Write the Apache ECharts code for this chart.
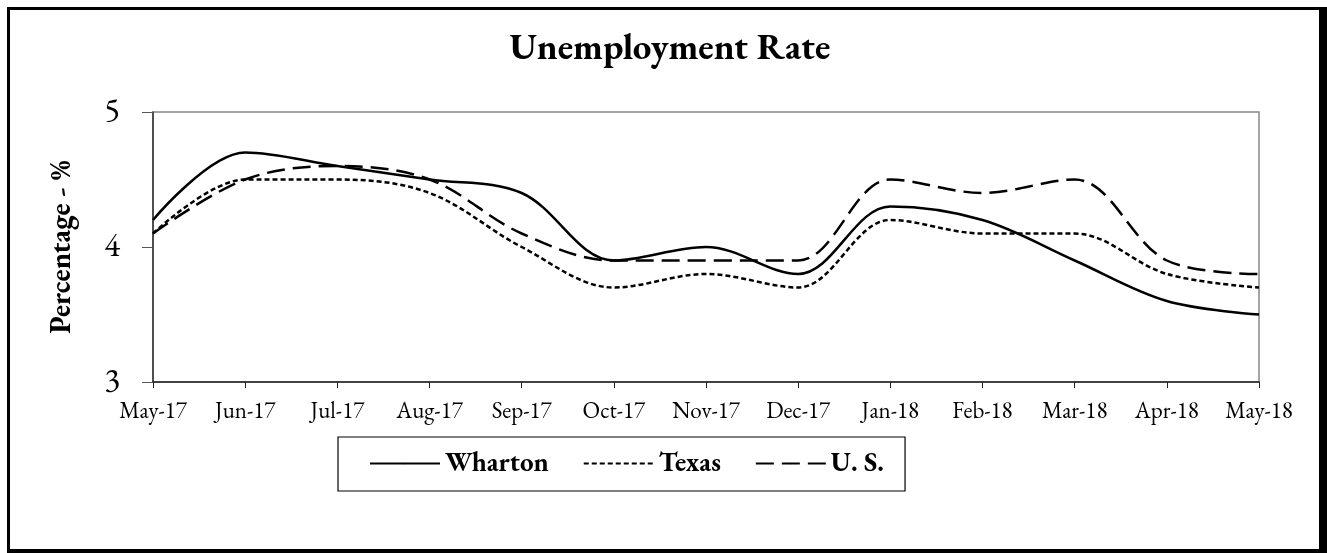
<!DOCTYPE html>
<html>
<head>
<meta charset="utf-8">
<title>Unemployment Rate</title>
<script src="https://cdn.jsdelivr.net/npm/echarts@6/dist/echarts.min.js"></script>
<style>
  html, body { margin: 0; padding: 0; background: #fff; }
  #chart { width: 1327px; height: 553px; }
</style>
</head>
<body>
<div id="chart"></div>
<script>
// data
var months = ["May-17", "Jun-17", "Jul-17", "Aug-17", "Sep-17", "Oct-17", "Nov-17",
              "Dec-17", "Jan-18", "Feb-18", "Mar-18", "Apr-18", "May-18"];
var wharton = [4.2, 4.7, 4.6, 4.5, 4.4, 3.9, 4.0, 3.8, 4.3, 4.2, 3.9, 3.6, 3.5];
var texas   = [4.1, 4.5, 4.5, 4.4, 4.0, 3.7, 3.8, 3.7, 4.2, 4.1, 4.1, 3.8, 3.7];
var us      = [4.1, 4.5, 4.6, 4.5, 4.1, 3.9, 3.9, 3.9, 4.5, 4.4, 4.5, 3.9, 3.8];

var serif = "'EB Garamond', Garamond, 'Liberation Serif', 'DejaVu Serif', serif";

var chart = echarts.init(document.getElementById("chart"));

function lineSeries(name, data, type) {
  return {
    name: name,
    type: "line",
    data: data,
    symbol: "none",
    smooth: 0.35,
    color: "#000",
    lineStyle: { color: "#000", width: 2.5, type: type },
    z: 3
  };
}

chart.setOption({
  backgroundColor: "#fff",
  animation: false,
  title: {
    text: "Unemployment Rate",
    left: 665,
    textAlign: "center",
    top: 25,
    textStyle: { fontFamily: serif, fontSize: 37, fontWeight: "bold", color: "#000" }
  },
  grid: {
    left: 153,
    right: 68,
    top: 112,
    bottom: 171,
    show: true,
    borderColor: "#888",
    borderWidth: 1.5,
    backgroundColor: "#fff"
  },
  legend: {
    left: 338,
    top: 437,
    padding: [13, 21, 14, 31],
    borderColor: "#000",
    borderWidth: 1.2,
    itemWidth: 70,
    itemHeight: 2,
    itemGap: 34,
    itemStyle: { color: "#000", borderWidth: 0 },
    textStyle: { fontFamily: serif, fontSize: 27, fontWeight: "bold", color: "#000" },
    data: ["Wharton", "Texas", "U. S."]
  },
  xAxis: {
    type: "category",
    data: months,
    boundaryGap: false,
    axisLine: { lineStyle: { color: "#222", width: 1.5 } },
    axisTick: { length: 6, lineStyle: { color: "#222" } },
    axisLabel: { fontFamily: serif, fontSize: 23, color: "#000", margin: 18 }
  },
  yAxis: {
    type: "value",
    min: 3,
    max: 5,
    interval: 1,
    name: "Percentage - %",
    nameLocation: "middle",
    nameGap: 76,
    nameTextStyle: { fontFamily: serif, fontSize: 29, fontWeight: "bold", color: "#000" },
    axisLine: { show: true, lineStyle: { color: "#333", width: 1.5 } },
    axisTick: { show: true, length: 11, lineStyle: { color: "#555" } },
    splitLine: { show: false },
    axisLabel: { fontFamily: serif, fontSize: 33, color: "#000", margin: 33 }
  },
  graphic: [
    { type: "rect", shape: { x: 7, y: 7, width: 3, height: 546 }, style: { fill: "#000" } },
    { type: "rect", shape: { x: 7, y: 7, width: 1320, height: 3 }, style: { fill: "#000" } },
    { type: "rect", shape: { x: 1319, y: 7, width: 8, height: 546 }, style: { fill: "#000" } },
    { type: "rect", shape: { x: 7, y: 549, width: 1320, height: 4 }, style: { fill: "#000" } }
  ],
  series: [
    lineSeries("Wharton", wharton, "solid"),
    lineSeries("Texas", texas, [5, 3]),
    lineSeries("U. S.", us, [18, 8])
  ]
});
</script>
</body>
</html>
